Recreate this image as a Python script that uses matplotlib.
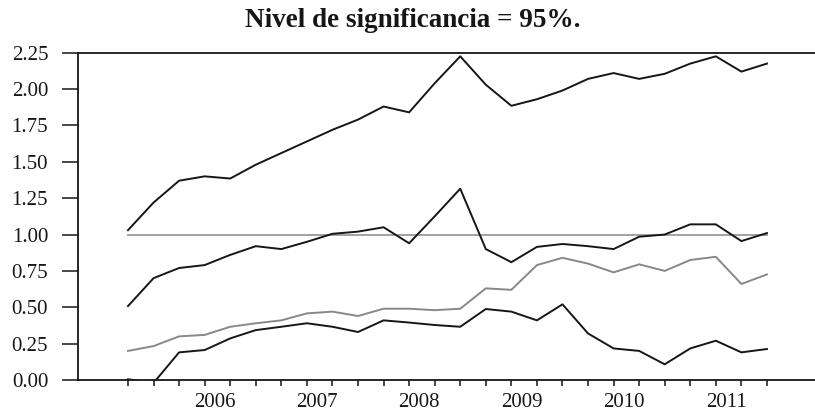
import numpy as np
import matplotlib
matplotlib.use("Agg")
import matplotlib.pyplot as plt

# quarterly observations, 2005Q2 .. 2011Q3
upper = [1.03, 1.22, 1.37, 1.40, 1.385, 1.48, 1.56, 1.64, 1.72, 1.79, 1.88, 1.84, 2.04,
         2.225, 2.03, 1.885, 1.93, 1.99, 2.07, 2.11, 2.07, 2.105, 2.175, 2.225, 2.12, 2.175]
middle = [0.508, 0.70, 0.77, 0.79, 0.86, 0.92, 0.90, 0.95, 1.005, 1.02, 1.05, 0.94, 1.125,
          1.315, 0.90, 0.81, 0.915, 0.935, 0.92, 0.90, 0.985, 1.00, 1.07, 1.07, 0.955, 1.01]
gray = [0.20, 0.233, 0.30, 0.31, 0.366, 0.39, 0.41, 0.458, 0.47, 0.44, 0.49, 0.49, 0.48,
        0.49, 0.63, 0.62, 0.79, 0.84, 0.80, 0.74, 0.795, 0.75, 0.825, 0.847, 0.66, 0.726]
lower = [0.005, -0.02, 0.19, 0.206, 0.286, 0.343, 0.366, 0.39, 0.366, 0.33, 0.41, 0.395, 0.378,
         0.366, 0.488, 0.47, 0.41, 0.52, 0.32, 0.217, 0.20, 0.108, 0.217, 0.27, 0.19, 0.213]
reference = 1.0
years = ["2006", "2007", "2008", "2009", "2010", "2011"]
year_pos = [3.4, 7.4, 11.4, 15.4, 19.4, 23.4]
yticks = [0.0, 0.25, 0.5, 0.75, 1.0, 1.25, 1.5, 1.75, 2.0, 2.25]

FONT = "Liberation Serif"
x = np.arange(len(upper))

fig = plt.figure(figsize=(8.15, 4.13), dpi=100)
ax = fig.add_axes([0.0957, 0.0799, 0.9043, 0.7925])

ax.plot(x, np.full(len(x), reference), color="#9a9a9a", lw=1.3, zorder=1)
ax.plot(x, upper, color="#161616", lw=1.4)
ax.plot(x, middle, color="#161616", lw=1.4)
ax.plot(x, gray, color="#888888", lw=1.4)
ax.plot(x, lower, color="#161616", lw=1.4)

ax.set_xlim(-1.956, 26.88)
ax.set_ylim(0, 2.25)

ax.set_yticks(yticks)
ax.set_yticklabels([f"{v:.2f}" for v in yticks], fontfamily=FONT, fontsize=15)
ax.tick_params(axis="y", length=11.5, width=1.1, pad=10, direction="out", colors="#161616")

ax.set_xticks(year_pos)
ax.set_xticklabels(years, fontfamily=FONT, fontsize=15)
ax.set_xticks(x, minor=True)
ax.tick_params(axis="x", which="major", length=0, pad=9.5, colors="#161616")
ax.tick_params(axis="x", which="minor", length=4.3, width=1.1, direction="out", color="#161616")

for side in ["left", "bottom", "top"]:
    ax.spines[side].set_linewidth(1.3)
    ax.spines[side].set_color("#161616")
ax.spines["right"].set_visible(False)

fig.text(0.507, 0.935, "Nivel de significancia = 95%.", ha="center", va="baseline",
         fontfamily=FONT, fontweight="bold", fontsize=19.5, color="#161616")

fig.savefig("out.png", dpi=100)
